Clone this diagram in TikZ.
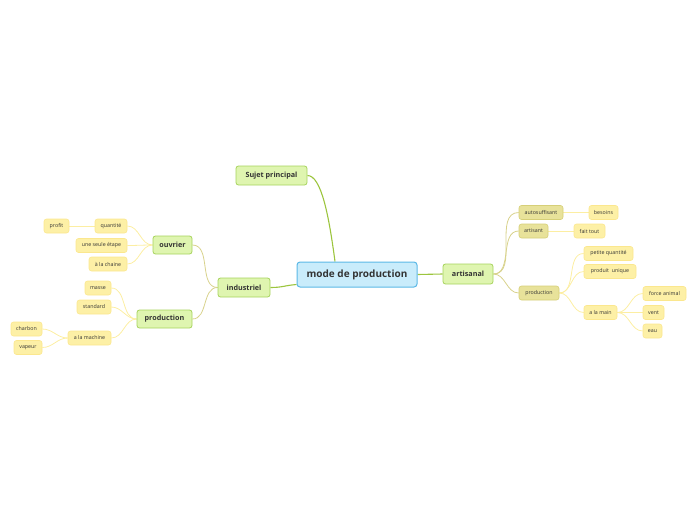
\documentclass[tikz,border=0pt]{standalone}
\usepackage{fontspec}
\setmainfont{Open Sans}
\usetikzlibrary{backgrounds}
\definecolor{cfill}{HTML}{C9ECFB}
\definecolor{cborder}{HTML}{5BB8E6}
\definecolor{gfill}{HTML}{DFF5B0}
\definecolor{gborder}{HTML}{A6D35C}
\definecolor{yfill}{HTML}{FDF0A6}
\definecolor{yborder}{HTML}{FBE78E}
\definecolor{kfill}{HTML}{E8E29A}
\definecolor{kborder}{HTML}{D6CF78}
\definecolor{lgreen}{HTML}{9CC53E}
\definecolor{lkhaki}{HTML}{D8D28C}
\definecolor{lyellow}{HTML}{FCEEA2}
\definecolor{tcol}{HTML}{333333}
\tikzset{
  box/.style={rounded corners=2.5pt, inner sep=0pt, align=center, text=tcol},
  centralbox/.style={box, rounded corners=3pt, draw=cborder, fill=cfill, line width=1pt,
     font=\bfseries\fontsize{10}{12}\selectfont},
  mainbox/.style={box, draw=gborder, fill=gfill, line width=0.8pt,
     font=\bfseries\fontsize{7.2}{8.5}\selectfont},
  leafbox/.style={box, draw=yborder, fill=yfill, line width=0.6pt,
     font=\fontsize{5.3}{6.3}\selectfont},
  khakibox/.style={box, draw=kborder, fill=kfill, line width=0.6pt,
     font=\fontsize{5.3}{6.3}\selectfont},
  sz/.style 2 args={minimum width=#1pt, minimum height=#2pt},
  gline/.style={draw=lgreen, line width=1.1pt},
  kline/.style={draw=lkhaki, line width=0.8pt},
  yline/.style={draw=lyellow, line width=0.8pt},
}
\begin{document}
\begin{tikzpicture}[x=1pt, y=-1pt]
\useasboundingbox (0,0) rectangle (696,520);
% central and main
\node[centralbox, sz={120}{25}] (central) at (357,274.5) {mode de production};
\node[mainbox, sz={71}{19}] (sujet) at (271.5,175.5) {Sujet principal};
\node[mainbox, sz={52}{19}] (industriel) at (244,287.5) {industriel};
\node[mainbox, sz={39}{18}] (ouvrier) at (172.5,245) {ouvrier};
\node[mainbox, sz={55}{18}] (prodL) at (164.5,319) {production};
\node[mainbox, sz={50}{20}] (artisanal) at (468,274) {artisanal};
% left leaves
\node[leafbox, sz={25}{14}] (profit) at (56.5,226) {profit};
\node[leafbox, sz={32}{14}] (quantite) at (111,226) {quantité};
\node[leafbox, sz={51}{14}] (etape) at (101.5,245.5) {une seule étape};
\node[leafbox, sz={38}{14}] (chaine) at (108,264) {à la chaine};
\node[leafbox, sz={26}{14}] (masse) at (98,288) {masse};
\node[leafbox, sz={34}{14}] (standard) at (94,307) {standard};
\node[leafbox, sz={43}{14}] (machine) at (89.5,338) {a la machine};
\node[leafbox, sz={31}{14}] (charbon) at (26.5,329) {charbon};
\node[leafbox, sz={28}{14}] (vapeur) at (28,347.5) {vapeur};
% right nodes
\node[khakibox, sz={44}{14}] (autosuf) at (541,212.5) {autosuffisant};
\node[leafbox, sz={29}{14}] (besoins) at (603.5,212.5) {besoins};
\node[khakibox, sz={29}{14}] (artisant) at (533.5,231) {artisant};
\node[leafbox, sz={31}{14}] (faittout) at (589.5,231) {fait tout};
\node[khakibox, sz={40}{14}] (prodR) at (539,293) {production};
\node[leafbox, sz={49}{14}] (petite) at (608.5,253.5) {petite quantité};
\node[leafbox, sz={52}{14}] (unique) at (610,271.5) {produit\ \ unique};
\node[leafbox, sz={33}{14}] (main) at (600.5,312.5) {a la main};
\node[leafbox, sz={43}{14}] (force) at (664.5,293.5) {force animal};
\node[leafbox, sz={21}{14}] (vent) at (653.5,312.5) {vent};
\node[leafbox, sz={19}{14}] (eau) at (652.5,331) {eau};
% connectors
\begin{scope}[on background layer]
\draw[gline] (sujet.east) .. controls +(14,0) and +(-6,-45) .. ([xshift=-22pt]central.north);
\draw[gline] (industriel.east) .. controls +(12,0) and +(-12,1) .. ([yshift=-10pt]central.west);
\draw[gline] (central.east) -- (artisanal.west);
\draw[kline] (industriel.west) to[out=180,in=0] (ouvrier.east);
\draw[kline] (industriel.west) to[out=180,in=0] (prodL.east);
\draw[yline] (ouvrier.west) to[out=180,in=0] (quantite.east);
\draw[yline] (ouvrier.west) to[out=180,in=0] (etape.east);
\draw[yline] (ouvrier.west) to[out=180,in=0] (chaine.east);
\draw[yline] (quantite.west) -- (profit.east);
\draw[yline] (prodL.west) to[out=180,in=0] (masse.east);
\draw[yline] (prodL.west) to[out=180,in=0] (standard.east);
\draw[yline] (prodL.west) to[out=180,in=0] (machine.east);
\draw[yline] (machine.west) to[out=180,in=0] (charbon.east);
\draw[yline] (machine.west) to[out=180,in=0] (vapeur.east);
\draw[kline] (artisanal.east) to[out=0,in=180] (autosuf.west);
\draw[kline] (artisanal.east) to[out=0,in=180] (artisant.west);
\draw[kline] (artisanal.east) to[out=0,in=180] (prodR.west);
\draw[yline] (autosuf.east) -- (besoins.west);
\draw[yline] (artisant.east) -- (faittout.west);
\draw[yline] (prodR.east) to[out=0,in=180] (petite.west);
\draw[yline] (prodR.east) to[out=0,in=180] (unique.west);
\draw[yline] (prodR.east) to[out=0,in=180] (main.west);
\draw[yline] (main.east) to[out=0,in=180] (force.west);
\draw[yline] (main.east) to[out=0,in=180] (vent.west);
\draw[yline] (main.east) to[out=0,in=180] (eau.west);
\end{scope}
\end{tikzpicture}
\end{document}
